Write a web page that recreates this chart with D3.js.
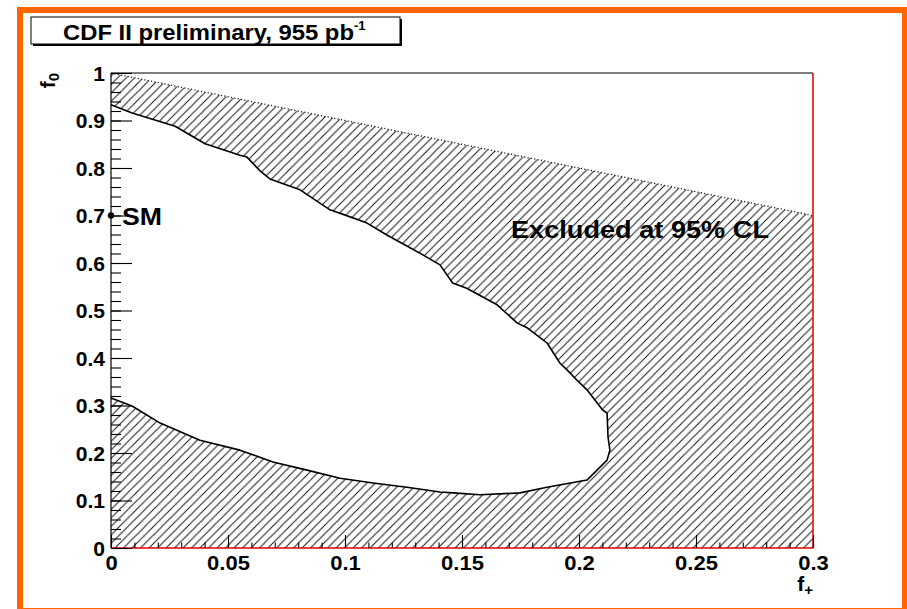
<!DOCTYPE html>
<html><head><meta charset="utf-8">
<script src="https://cdn.jsdelivr.net/npm/d3@7"></script>
<style>
html,body{margin:0;padding:0;background:#fff;}
svg{display:block;font-family:"Liberation Sans",Arial,sans-serif;font-weight:bold;}
</style></head>
<body>
<svg id="c" width="907" height="609"></svg>
<script>
// ---- data ----
const titleText = "CDF II preliminary, 955 pb";
const titleSup = "-1";
const xTicks = [0, 0.05, 0.1, 0.15, 0.2, 0.25, 0.3];
const xTickLabels = ["0", "0.05", "0.1", "0.15", "0.2", "0.25", "0.3"];
const yTicks = [0, 0.1, 0.2, 0.3, 0.4, 0.5, 0.6, 0.7, 0.8, 0.9, 1];
const yTickLabels = ["0", "0.1", "0.2", "0.3", "0.4", "0.5", "0.6", "0.7", "0.8", "0.9", "1"];
// physical boundary f0 + f+ <= 1 (within plotted range)
const boundaryFplus = [0, 0.3];
const boundaryF0 = [1, 0.7];
// 95% CL contour (allowed region boundary), f+ and f0 values
const contourFplus = [0, 0.009, 0.0274, 0.0402, 0.0551, 0.0581, 0.0637, 0.0679, 0.0808, 0.0936, 0.1034, 0.1094, 0.1179, 0.1278, 0.1333, 0.1406, 0.146, 0.152, 0.165, 0.1735, 0.178, 0.1863, 0.1919, 0.1949, 0.199, 0.2034, 0.210, 0.2120, 0.2124, 0.2132, 0.2120, 0.2034, 0.1863, 0.1748, 0.1577, 0.1462, 0.1406, 0.1265, 0.112, 0.0979, 0.0838, 0.0692, 0.0551, 0.038, 0.021, 0.009, 0];
const contourF0 = [0.933, 0.916, 0.888, 0.851, 0.827, 0.823, 0.794, 0.777, 0.754, 0.712, 0.695, 0.684, 0.659, 0.632, 0.617, 0.596, 0.558, 0.547, 0.512, 0.474, 0.463, 0.432, 0.389, 0.375, 0.354, 0.333, 0.291, 0.284, 0.234, 0.206, 0.185, 0.143, 0.128, 0.116, 0.112, 0.116, 0.118, 0.128, 0.137, 0.147, 0.164, 0.181, 0.206, 0.227, 0.263, 0.299, 0.316];
const smPoint = {fplus: 0, f0: 0.7, label: "SM"};
const excludedLabel = "Excluded at 95% CL";

// ---- drawing ----
const svg = d3.select("#c");
const x = d3.scaleLinear().domain([0, 0.3]).range([111, 813]);
const y = d3.scaleLinear().domain([0, 1]).range([548, 73]);

function stretch(sel, factor) {
  sel.each(function () {
    const w = this.getComputedTextLength();
    this.setAttribute("textLength", w * factor);
    this.setAttribute("lengthAdjust", "spacingAndGlyphs");
  });
}

// orange outer frame
svg.append("rect").attr("x", 20).attr("y", 10).attr("width", 885).attr("height", 601)
  .attr("fill", "#fff").attr("stroke", "#ff6600").attr("stroke-width", 6);

const defs = svg.append("defs");
const pat = defs.append("pattern").attr("id", "hatch").attr("patternUnits", "userSpaceOnUse")
  .attr("width", 8.5).attr("height", 8.5);
pat.append("path").attr("d", "M-1,9.5 L9.5,-1 M-2.5,2.5 L2.5,-2.5 M6,11 L11,6")
  .attr("stroke", "#111").attr("stroke-width", 0.95).attr("fill", "none");

// region allowed physically within the frame
const regionPts = [[0, 0], [0.3, 0], [boundaryFplus[1], boundaryF0[1]], [boundaryFplus[0], boundaryF0[0]]];
const line = d3.line().x(d => x(d[0])).y(d => y(d[1]));
defs.append("clipPath").attr("id", "phys").append("path").attr("d", line(regionPts) + "Z");

svg.append("rect").attr("x", x(0)).attr("y", y(1)).attr("width", x(0.3) - x(0)).attr("height", y(0) - y(1))
  .attr("fill", "url(#hatch)").attr("clip-path", "url(#phys)");

const contour = contourFplus.map((v, i) => [v, contourF0[i]]);
// white interior of allowed region
svg.append("path").attr("d", line(contour) + "Z").attr("fill", "#fff").attr("stroke", "none");
svg.append("path").attr("d", line(contour)).attr("fill", "none")
  .attr("stroke", "#000").attr("stroke-width", 1.6).attr("stroke-linejoin", "round");

// jagged physical boundary edge
svg.append("path").attr("d", line(boundaryFplus.map((v, i) => [v, boundaryF0[i]])))
  .attr("stroke", "#222").attr("stroke-width", 1.3).attr("stroke-dasharray", "1.2,2.2").attr("fill", "none");

// frame
svg.append("line").attr("x1", x(0)).attr("x2", x(0.3)).attr("y1", y(1)).attr("y2", y(1)).attr("stroke", "#555").attr("stroke-width", 1.5);
svg.append("line").attr("x1", x(0.3)).attr("x2", x(0.3)).attr("y1", y(1)).attr("y2", y(0)).attr("stroke", "#e00000").attr("stroke-width", 1.5);
svg.append("line").attr("x1", x(0)).attr("x2", x(0.3)).attr("y1", y(0)).attr("y2", y(0)).attr("stroke", "#e00000").attr("stroke-width", 1.5);
svg.append("line").attr("x1", x(0)).attr("x2", x(0)).attr("y1", y(1)).attr("y2", y(0)).attr("stroke", "#000").attr("stroke-width", 1.2);

// y axis
const yMinor = svg.append("g").attr("transform", `translate(${x(0)},0)`)
  .call(d3.axisLeft(y).tickValues(d3.range(0, 1.0001, 0.02)).tickSizeInner(-10).tickSizeOuter(0).tickFormat(""));
const yMajor = svg.append("g").attr("transform", `translate(${x(0)},0)`)
  .call(d3.axisLeft(y).tickValues(yTicks).tickSizeInner(-21).tickSizeOuter(0).tickPadding(6)
    .tickFormat((d, i) => yTickLabels[i]));
[yMinor, yMajor].forEach(g => { g.select(".domain").remove(); g.selectAll("line").attr("stroke", "#000").attr("stroke-width", 1.1); });
yMajor.selectAll("text").attr("font-size", 19.5).attr("font-family", "Liberation Sans, Arial, sans-serif")
  .attr("font-weight", "bold").attr("fill", "#000").attr("dy", "0.36em");
stretch(yMajor.selectAll("text"), 1.08);

// x axis
const xMinor = svg.append("g").attr("transform", `translate(0,${y(0)})`)
  .call(d3.axisBottom(x).tickValues(d3.range(0, 0.3001, 0.01)).tickSizeInner(-5.5).tickSizeOuter(0).tickFormat(""));
const xMajor = svg.append("g").attr("transform", `translate(0,${y(0)})`)
  .call(d3.axisBottom(x).tickValues(xTicks).tickSizeInner(-13).tickSizeOuter(0).tickPadding(8)
    .tickFormat((d, i) => xTickLabels[i]));
[xMinor, xMajor].forEach(g => { g.select(".domain").remove(); g.selectAll("line").attr("stroke", "#000").attr("stroke-width", 1.1); });
xMajor.selectAll("text").attr("font-size", 20).attr("font-family", "Liberation Sans, Arial, sans-serif")
  .attr("font-weight", "bold").attr("fill", "#000");
stretch(xMajor.selectAll("text"), 1.1);

// axis titles
const xt = svg.append("text").attr("x", 813).attr("y", 591).attr("text-anchor", "end").attr("font-size", 21);
xt.append("tspan").text("f");
xt.append("tspan").attr("font-size", 15).attr("dy", 4).text("+");
const yt = svg.append("text").attr("transform", `translate(55,${y(1)}) rotate(-90)`).attr("text-anchor", "end").attr("font-size", 21);
yt.append("tspan").text("f");
yt.append("tspan").attr("font-size", 15).attr("dy", 4).text("0");

// SM point
svg.append("circle").attr("cx", x(smPoint.fplus)).attr("cy", y(smPoint.f0)).attr("r", 3.2).attr("fill", "#000");
const sm = svg.append("text").attr("x", 122).attr("y", 225).attr("font-size", 23).text(smPoint.label);
sm.attr("textLength", 40).attr("lengthAdjust", "spacingAndGlyphs");

// excluded label
const ex = svg.append("text").attr("x", 511).attr("y", 238).attr("font-size", 24).text(excludedLabel);
ex.attr("textLength", 258).attr("lengthAdjust", "spacingAndGlyphs");

// title box
svg.append("rect").attr("x", 33).attr("y", 19).attr("width", 369).attr("height", 27).attr("fill", "#000");
svg.append("rect").attr("x", 31).attr("y", 17).attr("width", 369).attr("height", 27).attr("fill", "#fff").attr("stroke", "#000").attr("stroke-width", 1);
const tt = svg.append("text").attr("x", 63).attr("y", 39.5).attr("font-size", 22.5);
tt.append("tspan").attr("textLength", 291).attr("lengthAdjust", "spacingAndGlyphs").text(titleText);
tt.append("tspan").attr("font-size", 13).attr("dy", -10).text(titleSup);
</script>
</body></html>
